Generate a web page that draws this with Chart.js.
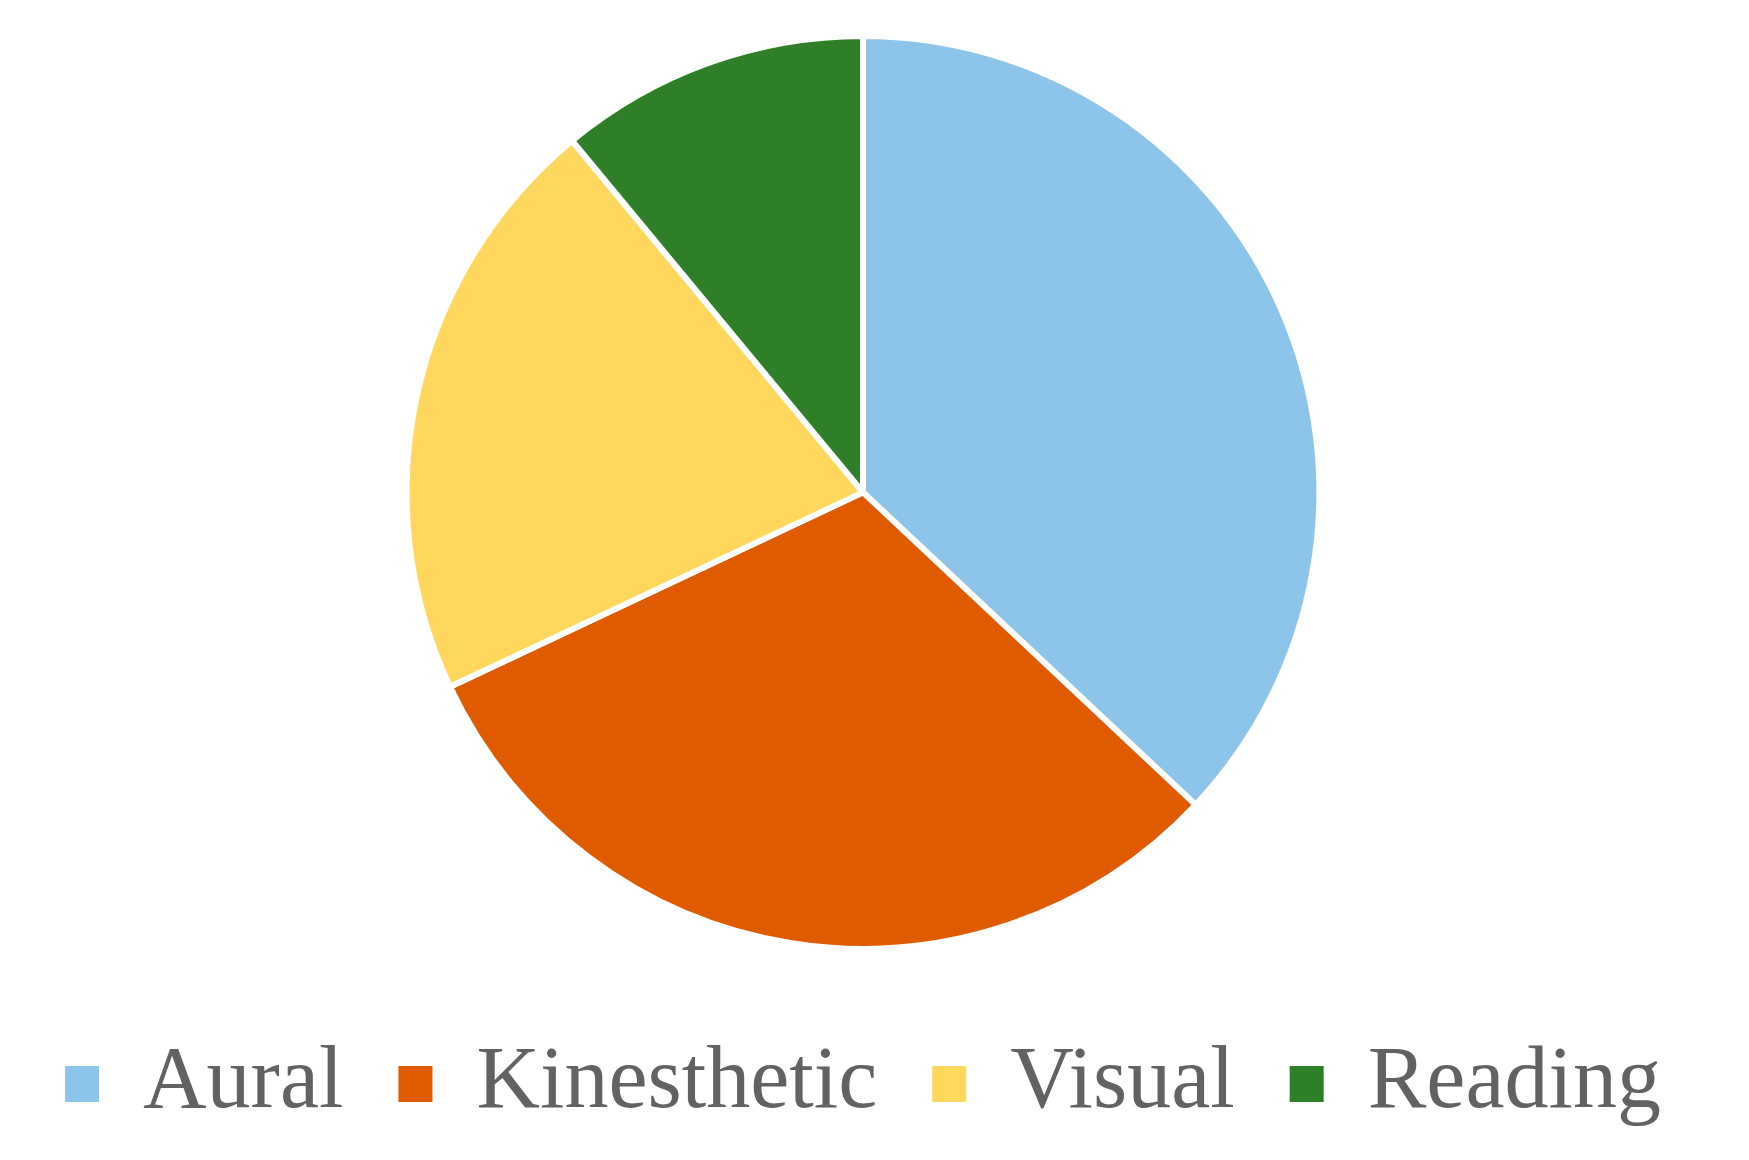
<!DOCTYPE html>
<html>
<head>
<meta charset="utf-8">
<script src="https://cdn.jsdelivr.net/npm/chart.js@4/dist/chart.umd.min.js"></script>
<style>
  html, body { margin: 0; padding: 0; background: #fff; }
  #wrap { width: 1749px; height: 1160px; }
</style>
</head>
<body>
<div id="wrap"><canvas id="pieChart" width="1749" height="1160"></canvas></div>
<script>
const categories = ['Aural', 'Kinesthetic', 'Visual', 'Reading'];
const shares = [37, 31, 21, 11];
const sliceColors = ['#8DC4E9', '#E05A00', '#FFD75C', '#2E7F27'];

window.onload = function () {
  const ctx = document.getElementById('pieChart').getContext('2d');
  new Chart(ctx, {
    type: 'pie',
    data: {
      labels: categories,
      datasets: [{
        data: shares,
        backgroundColor: sliceColors,
        borderColor: '#ffffff',
        borderWidth: 6
      }]
    },
    options: {
      responsive: false,
      animation: false,
      layout: {
        padding: { top: 33, bottom: 22, left: 0, right: 23 }
      },
      plugins: {
        tooltip: { enabled: false },
        legend: {
          position: 'bottom',
          // empty title just adds some room between pie and legend row
          title: {
            display: true,
            text: '',
            font: { size: 1 },
            padding: { top: 32, bottom: 0 }
          },
          labels: {
            color: '#626262',
            font: { family: '"Liberation Serif", "Times New Roman", serif', size: 88 },
            boxWidth: 34,
            boxHeight: 36,
            padding: 55,
            generateLabels: function (chart) {
              const items = Chart.controllers.pie.overrides.plugins.legend.labels.generateLabels(chart);
              items.forEach(function (it) {
                it.lineWidth = 0;
                it.strokeStyle = 'rgba(0,0,0,0)';
              });
              return items;
            }
          }
        }
      }
    }
  });
};
</script>
</body>
</html>
